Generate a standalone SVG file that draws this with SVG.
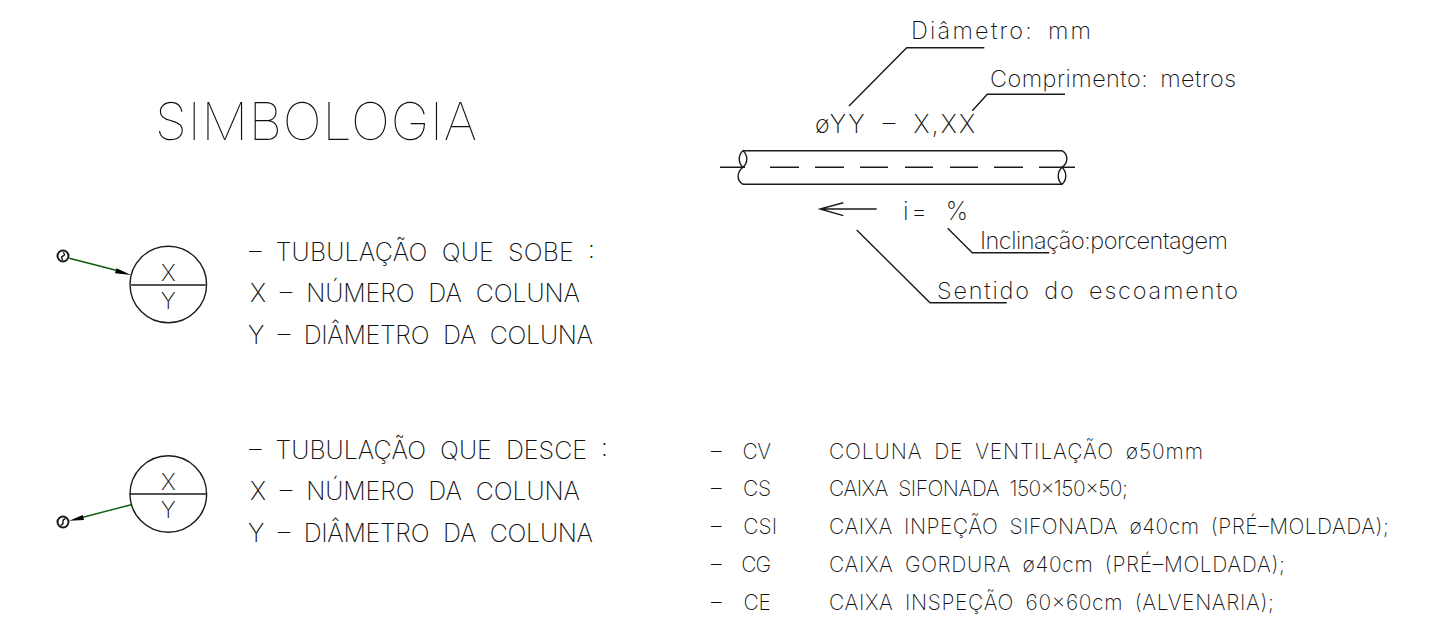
<svg xmlns="http://www.w3.org/2000/svg" width="1432" height="630" viewBox="0 0 1432 630">
<style>
text{font-family:Inter,Roboto,"Liberation Sans",sans-serif;font-weight:200;fill:#111;font-size:25px;word-spacing:7px}
.h{font-size:52px;font-weight:100}
.t{font-size:21px;word-spacing:5px}
.c{font-size:21px;word-spacing:16px}
.m{font-size:23px;text-anchor:middle}
.p{font-size:23.500px;word-spacing:5px}
.l{fill:none;stroke:#1a1a1a;stroke-width:1.4}
.g{fill:none;stroke:#0b5d0b;stroke-width:1.4}
.a{fill:#000;stroke:none}
</style>
<rect width="1432" height="630" fill="#fff"/>
<g id="title"><text class="h" x="155" y="140" textLength="322">SIMBOLOGIA</text></g>
<g id="symbol-up">
<circle class="l" cx="168.300" cy="284.500" r="38.300"/>
<line x1="130" y1="285" x2="206.600" y2="285" stroke="#555" stroke-width="2.200"/>
<text class="m" x="168.300" y="281">X</text><text class="m" x="168.300" y="309">Y</text>
</g>
<g id="symbol-down">
<circle class="l" cx="168.300" cy="494" r="38.300"/>
<line class="l" x1="130" y1="494" x2="206.600" y2="494"/>
<text class="m" x="168.300" y="490">X</text><text class="m" x="168.300" y="518">Y</text>
</g>
<g id="source-up">
<circle class="l" cx="63" cy="256" r="5.500" style="stroke-width:2"/><path class="l" d="M63 252.500q3 2 0 3.500t0 4"/>
</g>
<g id="source-down">
<circle class="l" cx="63" cy="522" r="5.500" style="stroke-width:2"/><path class="l" d="M60.500 525.500q3-1 2.500-3.500t2.500-3.500"/>
</g>
<g id="connectors">
<line class="g" x1="69.300" y1="258.300" x2="117" y2="270.500"/><path class="a" d="M131 275 116.500 268.300 115 273.300z"/>
<line class="g" x1="131" y1="504.700" x2="83" y2="517.300"/><path class="a" d="M69.300 520.700 82.700 515 84 520z"/>
<path class="l" d="M849 106 906.700 47.700H984.300M972.300 110.700 987.300 94.300H1065M947.700 228.300 972.300 252.700H1049.300M856.700 230 930 302.700H1006.700"/>
<path class="l" d="M876.700 209H820M843.300 202.700 820 209 843.300 215.700"/>
</g>
<g id="pipe">
<path class="l" d="M743 150.700H1062M743 184.300H1062"/>
<path class="l" d="M743 150.700C738 155 738 163 743 167.300C748 163 748 155 743 150.700ZM743 167.300C737 172 736 180 743 184.300"/>
<path class="l" d="M1062 184.300C1057 180 1057 172 1062 167.300C1067 172 1067 180 1062 184.300ZM1062 167.300C1068 163 1069 155 1062 150.700"/>
<path class="l" d="M720 167.300H745M770 167.300H799M815 167.300H844M860 167.300H888M905 167.300H933M950 167.300H978M994 167.300H1023M1039 167.300H1075"/>
</g>
<g id="pipe-labels">
<text class="p" x="911" y="39.300" textLength="180">Diâmetro: mm</text>
<text class="p" x="990" y="87.300" textLength="246">Comprimento: metros</text>
<text x="815" y="133.300" textLength="160">øYY – X,XX</text>
<text x="903" y="220" textLength="65">i= %</text>
<text class="p" x="980" y="249.300" textLength="248">Inclinação:porcentagem</text>
<text class="p" x="937" y="299" textLength="301">Sentido do escoamento</text>
</g>
<g id="legend-up">
<text x="249" y="261" textLength="346">– TUBULAÇÃO QUE SOBE :</text>
<text x="250" y="302" textLength="330">X – NÚMERO DA COLUNA</text>
<text x="248" y="344" textLength="345">Y – DIÂMETRO DA COLUNA</text>
</g>
<g id="legend-down">
<text x="249" y="459" textLength="359">– TUBULAÇÃO QUE DESCE :</text>
<text x="250" y="500" textLength="330">X – NÚMERO DA COLUNA</text>
<text x="248" y="542" textLength="345">Y – DIÂMETRO DA COLUNA</text>
</g>
<g id="codes">
<text class="c" x="711" y="459" textLength="60">– CV</text>
<text class="c" x="711" y="496" textLength="60">– CS</text>
<text class="c" x="711" y="534" textLength="66">– CSI</text>
<text class="c" x="711" y="572" textLength="60">– CG</text>
<text class="c" x="711" y="610" textLength="60">– CE</text>
<text class="t" x="829" y="459" textLength="374">COLUNA DE VENTILAÇÃO ø50mm</text>
<text class="t" x="829" y="496" textLength="299">CAIXA SIFONADA 150x150x50;</text>
<text class="t" x="829" y="534" textLength="560">CAIXA INPEÇÃO SIFONADA ø40cm (PRÉ–MOLDADA);</text>
<text class="t" x="829" y="572" textLength="456">CAIXA GORDURA ø40cm (PRÉ–MOLDADA);</text>
<text class="t" x="829" y="610" textLength="445">CAIXA INSPEÇÃO 60x60cm (ALVENARIA);</text>
</g>
</svg>
